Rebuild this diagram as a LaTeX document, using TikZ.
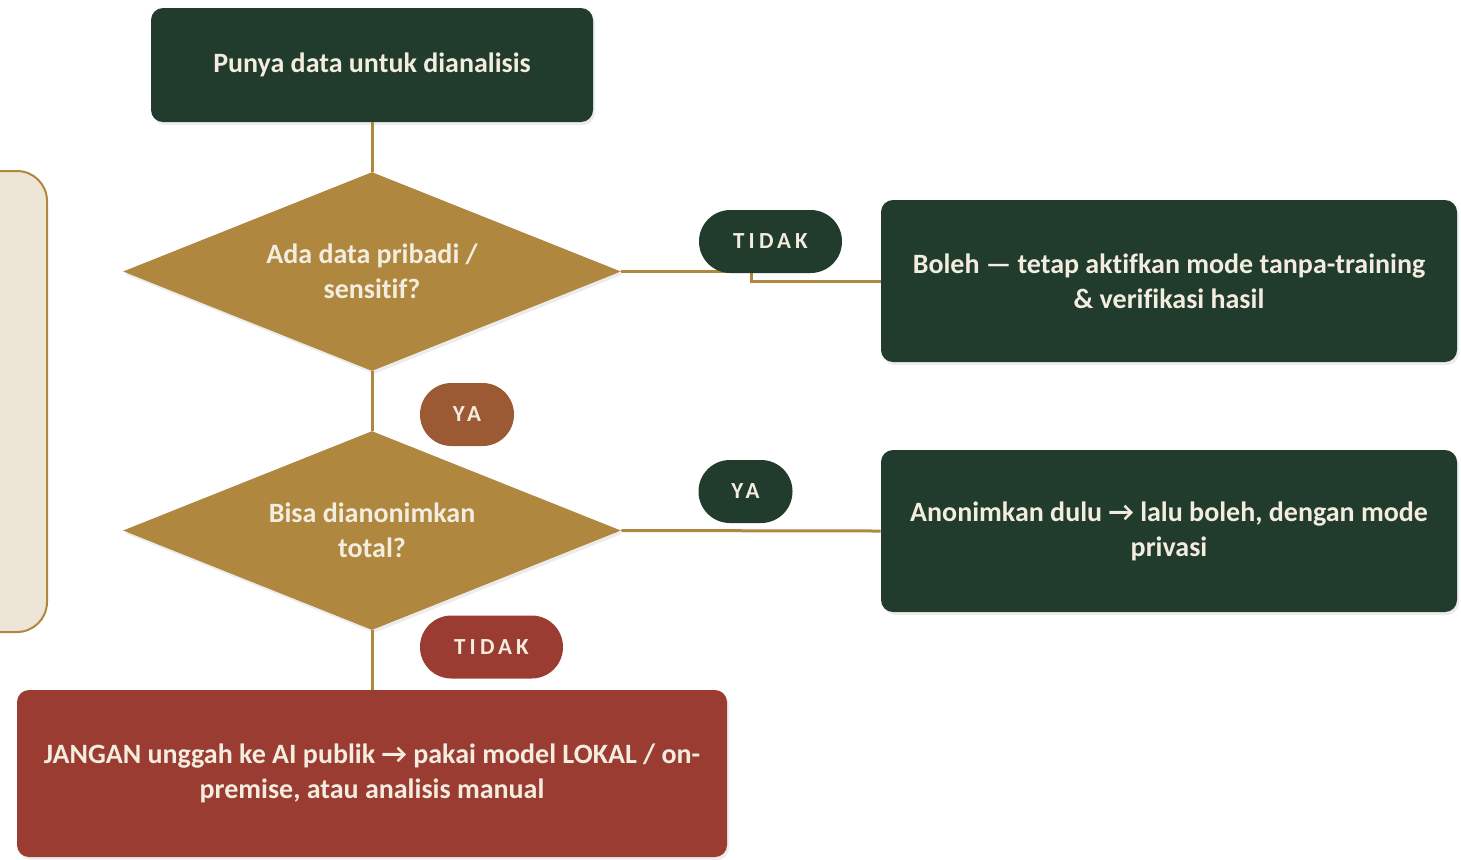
\documentclass[tikz,border=0pt]{standalone}
\usepackage{fontspec}
\setmainfont{Carlito}[Ligatures=NoCommon]
\usetikzlibrary{shapes.geometric,shadows}

\definecolor{forest}{HTML}{213B2D}
\definecolor{ochre}{HTML}{B0873F}
\definecolor{rust}{HTML}{9B5A33}
\definecolor{brick}{HTML}{9B3C32}
\definecolor{cream}{HTML}{F3EDE0}
\definecolor{sand}{HTML}{EDE5D5}

\begin{document}
\begin{tikzpicture}[
  x=0.5pt, y=-0.5pt,
  box/.style={rounded corners=6pt, align=center, text=cream, inner sep=0pt,
              font=\bfseries\fontsize{14}{17.5}\selectfont,
              drop shadow={opacity=0.15, shadow xshift=1pt, shadow yshift=-1.5pt}},
  decision/.style={diamond, aspect=2.5, fill=ochre, align=center, text=cream,
              inner sep=0pt, minimum width=249pt, minimum height=99.5pt,
              font=\bfseries\fontsize{14}{17.5}\selectfont,
              drop shadow={opacity=0.15, shadow xshift=1pt, shadow yshift=-1.5pt}},
  pill/.style={rounded corners=15.7pt, minimum height=31.5pt, inner sep=0pt,
              text=cream, font=\bfseries\fontsize{11.5}{13}\selectfont\addfontfeature{LetterSpace=18}},
  flow/.style={draw=ochre, line width=1.5pt}
]
  \clip (0,0) rectangle (1461,859);

  \node[draw=ochre, line width=1pt, fill=sand, rounded corners=15pt,
        minimum width=53.5pt, minimum height=230.5pt] (side) at (-6.5,401.5) {};

  \node[box, fill=forest, minimum width=221pt, minimum height=57pt] (start) at (372,65)
    {Punya data untuk dianalisis};
  \node[decision] (sens) at (372,271.5) {Ada data pribadi /\\sensitif?};
  \node[decision] (anon) at (372,530.5) {Bisa dianonimkan\\total?};
  \node[box, fill=forest, minimum width=288pt, minimum height=81pt] (okbox) at (1169,281)
    {Boleh — tetap aktifkan mode tanpa-training\\\& verifikasi hasil};
  \node[box, fill=forest, minimum width=288pt, minimum height=81pt] (anonbox) at (1169,531)
    {Anonimkan dulu → lalu boleh, dengan mode\\privasi};
  \node[box, fill=brick, minimum width=355pt, minimum height=83.5pt] (local) at (372,773.5)
    {JANGAN unggah ke AI publik → pakai model LOKAL / on-\\premise, atau analisis manual};

  \draw[flow] (start) -- (sens);
  \draw[flow] (sens) -- (anon);
  \draw[flow] (anon) -- (local);
  \draw[flow] (sens.east) -- ++(130,0) |- (okbox.west);
  \draw[flow] (anon.east) -- (anonbox.west);

  \node[pill, fill=forest, minimum width=71.5pt] (no1) at (770.5,241.5) {TIDAK};
  \node[pill, fill=rust, minimum width=47pt] (yes1) at (467,414.5) {YA};
  \node[pill, fill=forest, minimum width=47pt] (yes2) at (745.5,491.5) {YA};
  \node[pill, fill=brick, minimum width=71.5pt] (no2) at (491.5,647) {TIDAK};
\end{tikzpicture}
\end{document}
